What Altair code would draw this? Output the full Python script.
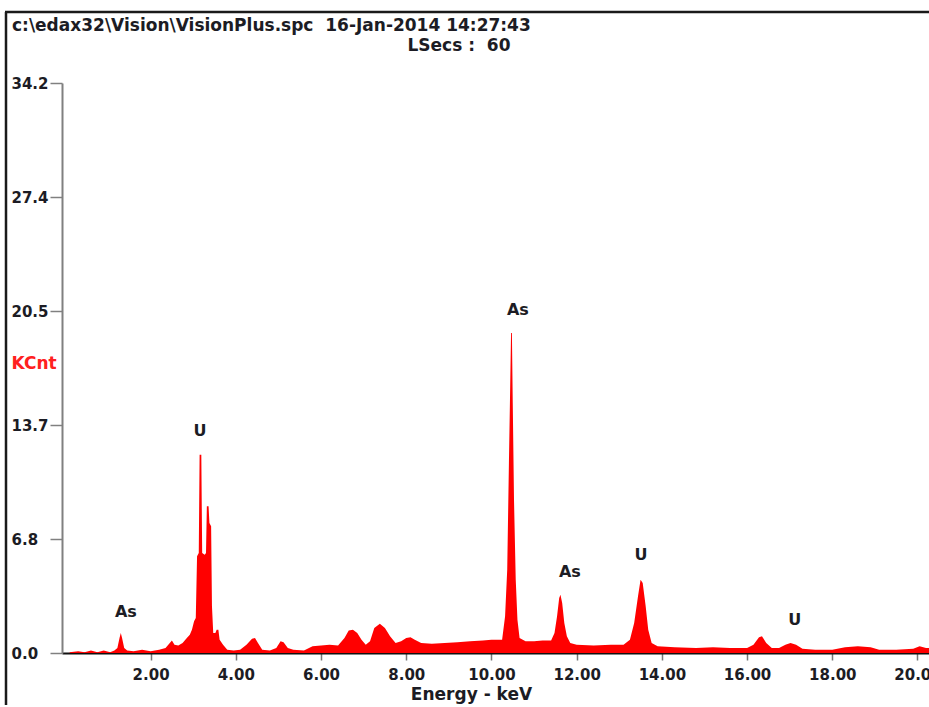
import altair as alt
import pandas as pd

# ---- spectrum values (keV, KCnt) ----
energy_kev = [
    0.10, 0.30, 0.45, 0.60, 0.75, 0.90, 1.05, 1.15, 1.22, 1.27, 1.30, 1.33, 1.38, 1.45,
    1.60, 1.80, 2.00, 2.20, 2.35, 2.45, 2.50, 2.56, 2.65, 2.75, 2.85, 2.92, 2.97, 3.02,
    3.06, 3.09, 3.13, 3.15, 3.19, 3.21, 3.27, 3.30, 3.32, 3.36, 3.38, 3.42, 3.44, 3.47,
    3.52, 3.55, 3.59, 3.62, 3.70, 3.80, 3.95, 4.10, 4.25, 4.38, 4.45, 4.52, 4.62, 4.80,
    4.95, 5.05, 5.12, 5.22, 5.35, 5.60, 5.80, 6.00, 6.20, 6.40, 6.55, 6.65, 6.75, 6.85,
    6.95, 7.05, 7.15, 7.25, 7.38, 7.50, 7.62, 7.75, 7.88, 8.00, 8.10, 8.20, 8.35, 8.60,
    8.90, 9.20, 9.50, 9.80, 10.00, 10.15, 10.25, 10.32, 10.37, 10.41, 10.44, 10.46,
    10.48, 10.50, 10.53, 10.57, 10.61, 10.66, 10.80, 11.00, 11.20, 11.40, 11.48, 11.54,
    11.59, 11.62, 11.66, 11.71, 11.77, 11.85, 12.00, 12.40, 12.80, 13.10, 13.25, 13.35,
    13.44, 13.50, 13.55, 13.62, 13.68, 13.76, 13.90, 14.30, 14.80, 15.20, 15.60, 16.00,
    16.15, 16.28, 16.35, 16.45, 16.58, 16.75, 16.90, 17.02, 17.15, 17.30, 17.60, 18.00,
    18.30, 18.60, 18.90, 19.10, 19.50, 19.90, 20.05, 20.20, 20.27,
]
kcnt = [
    0.05, 0.10, 0.05, 0.15, 0.05, 0.15, 0.05, 0.15, 0.30, 0.90, 1.20, 0.90, 0.30, 0.15,
    0.10, 0.20, 0.10, 0.20, 0.30, 0.60, 0.75, 0.50, 0.45, 0.60, 0.90, 1.10, 1.40, 1.90,
    2.10, 5.80, 6.00, 11.9, 11.9, 6.00, 5.90, 6.00, 8.80, 8.80, 7.80, 7.60, 2.80, 1.20,
    1.20, 1.40, 1.40, 0.80, 0.50, 0.20, 0.15, 0.20, 0.50, 0.85, 0.90, 0.60, 0.20, 0.15,
    0.30, 0.70, 0.65, 0.30, 0.20, 0.15, 0.40, 0.45, 0.50, 0.45, 0.90, 1.35, 1.40, 1.20,
    0.80, 0.50, 0.70, 1.50, 1.75, 1.50, 1.00, 0.60, 0.70, 0.90, 0.95, 0.80, 0.60, 0.55,
    0.60, 0.65, 0.70, 0.75, 0.80, 0.80, 0.80, 2.20, 5.00, 11.4, 16.0, 19.2,
    19.2, 15.0, 9.10, 4.40, 2.00, 0.90, 0.70, 0.70, 0.75, 0.75, 1.20, 2.20,
    3.30, 3.50, 3.00, 1.80, 1.00, 0.60, 0.50, 0.45, 0.50, 0.50, 0.80, 1.80,
    3.40, 4.40, 4.20, 2.80, 1.40, 0.60, 0.40, 0.35, 0.30, 0.35, 0.30, 0.30,
    0.50, 0.95, 1.00, 0.60, 0.30, 0.30, 0.50, 0.60, 0.50, 0.25, 0.20, 0.20,
    0.35, 0.40, 0.35, 0.20, 0.20, 0.25, 0.40, 0.30, 0.30,
]

# ---- peak identification labels ----
peak_text = ["As", "U", "As", "As", "U", "U"]
peak_kev = [1.42, 3.16, 10.62, 11.84, 13.51, 17.12]
peak_kcnt = [2.46, 13.3, 20.6, 4.86, 5.9, 2.0]

# ---- axis ticks ----
x_ticks = [2, 4, 6, 8, 10, 12, 14, 16, 18, 20]
y_ticks = [0.0, 6.84, 13.68, 20.52, 27.36, 34.2]

header = "c:\\edax32\\Vision\\VisionPlus.spc\u00a0 16-Jan-2014 14:27:43"
lsecs = "LSecs :\u00a0 60"

FONT = "DejaVu Sans"
TXT = "#1c1c24"

spec = pd.DataFrame({"keV": energy_kev, "KCnt": kcnt})
peaks = pd.DataFrame({"keV": peak_kev, "KCnt": peak_kcnt, "el": peak_text})

xscale = alt.Scale(domain=[-0.08, 20.27], nice=False, zero=False)
yscale = alt.Scale(domain=[0, 34.2], nice=False, zero=True)

area = alt.Chart(spec).mark_area(color="#ff0000", interpolate="linear").encode(
    x=alt.X("keV:Q", scale=xscale, axis=alt.Axis(
        values=x_ticks, format=".2f", tickSize=7, tickColor="#777777", tickWidth=1.5,
        domainColor="#111111", domainWidth=2, grid=False,
        labelFont=FONT, labelFontWeight="bold", labelFontSize=15, labelColor=TXT,
        labelPadding=7, labelFlush=False, labelOverlap=False, labelBound=False,
        title="Energy - keV", titleFont=FONT, titleFontWeight="bold", titleFontSize=17,
        titleColor=TXT, titleX=409, titleY=41, titleBaseline="middle")),
    y=alt.Y("KCnt:Q", scale=yscale, axis=alt.Axis(
        values=y_ticks, format=".1f", tickSize=12, tickColor="#808080", tickWidth=1.5,
        domainColor="#808080", domainWidth=2, grid=False,
        labelFont=FONT, labelFontWeight="bold", labelFontSize=15, labelColor=TXT,
        labelAlign="left", labelBaseline="middle", labelPadding=39,
        labelFlush=False, labelOverlap=False, labelBound=False,
        title="KCnt", titleFont=FONT, titleFontWeight="bold", titleFontSize=17,
        titleColor="#ff2020", titleAngle=0, titleAlign="left", titleBaseline="middle",
        titleX=-51, titleY=280)),
)

labels = alt.Chart(peaks).mark_text(
    font=FONT, fontWeight="bold", fontSize=16, color=TXT, baseline="middle", align="center"
).encode(x=alt.X("keV:Q", scale=xscale), y=alt.Y("KCnt:Q", scale=yscale), text="el:N")

dummy = pd.DataFrame({"d": [0]})
header_text = alt.Chart(dummy).mark_text(
    font=FONT, fontWeight="bold", fontSize=17, color=TXT, baseline="middle", align="left"
).encode(x=alt.value(-50), y=alt.value(-57), text=alt.value(header))
lsecs_text = alt.Chart(dummy).mark_text(
    font=FONT, fontWeight="bold", fontSize=17, color=TXT, baseline="middle", align="center"
).encode(x=alt.value(397), y=alt.value(-37), text=alt.value(lsecs))

frame_left = alt.Chart(dummy).mark_rule(color="#1a1a1a", strokeWidth=2.5).encode(
    x=alt.value(-56), y=alt.value(-71), y2=alt.value(640))
frame_top = alt.Chart(dummy).mark_rule(color="#1a1a1a", strokeWidth=2.5).encode(
    x=alt.value(-57), x2=alt.value(880), y=alt.value(-71))

chart = alt.layer(area, labels, header_text, lsecs_text, frame_left, frame_top).properties(
    width=867, height=570,
    padding={"left": 62, "top": 83, "right": 0, "bottom": 52},
    autosize=alt.AutoSizeParams(type="none"),
).configure_view(stroke=None)

chart.save("out.html", embed_options={"renderer": "svg", "actions": False})
